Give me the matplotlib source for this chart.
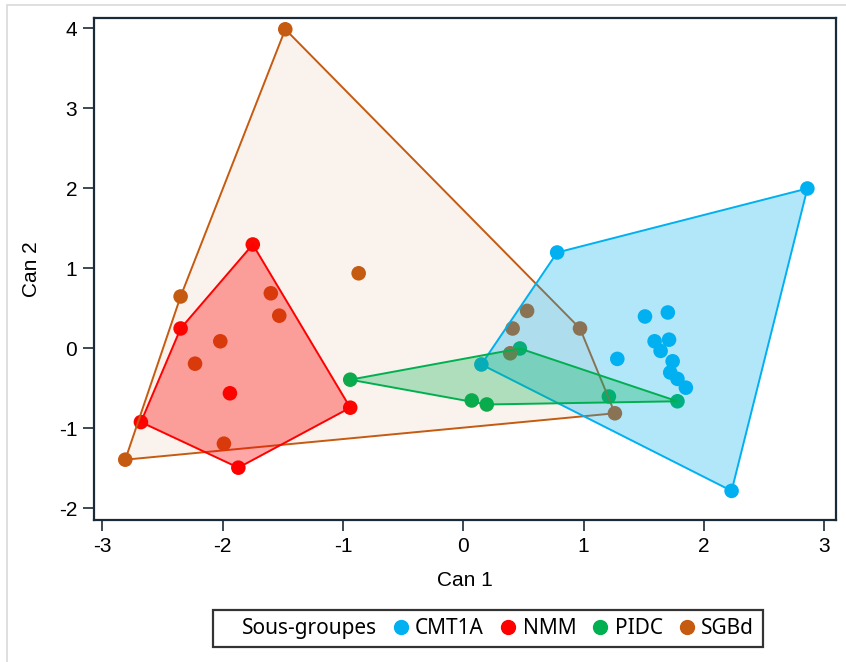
import matplotlib.pyplot as plt
from matplotlib.patches import Polygon, Rectangle
from matplotlib.lines import Line2D

# Scores canoniques par sous-groupe
cmt_x = [2.86, 0.78, 2.23, 0.15, 1.51, 1.70, 1.28, 1.59, 1.71, 1.64, 1.74, 1.72, 1.78, 1.85]
cmt_y = [2.00, 1.20, -1.78, -0.20, 0.40, 0.45, -0.13, 0.09, 0.11, -0.03, -0.16, -0.30, -0.38, -0.49]

nmm_x = [-1.75, -2.35, -2.68, -1.87, -0.94, -1.94]
nmm_y = [1.30, 0.25, -0.92, -1.49, -0.74, -0.56]

pidc_x = [-0.94, 0.47, 0.07, 0.195, 1.21, 1.78]
pidc_y = [-0.39, 0.00, -0.65, -0.70, -0.60, -0.66]

sgb_x = [-1.48, -2.81, -2.35, -0.87, -1.60, -1.53, -2.02, -2.23, -1.99,
         0.53, 0.41, 0.97, 0.39, 1.26]
sgb_y = [3.99, -1.39, 0.65, 0.94, 0.69, 0.41, 0.09, -0.19, -1.19,
         0.47, 0.25, 0.25, -0.06, -0.81]

groupes = ['CMT1A', 'NMM', 'PIDC', 'SGBd']
couleurs = ['#00B0F0', '#FF0000', '#00B050', '#C55A11']
alphas = [0.30, 0.35, 0.30, 0.08]
xticks = [-3, -2, -1, 0, 1, 2, 3]
yticks = [-2, -1, 0, 1, 2, 3, 4]

donnees = [(cmt_x, cmt_y), (nmm_x, nmm_y), (pidc_x, pidc_y), (sgb_x, sgb_y)]


def enveloppe(xs, ys):
    # enveloppe convexe (monotone chain)
    pts = sorted(set(zip(xs, ys)))

    def cross(o, a, b):
        return (a[0] - o[0]) * (b[1] - o[1]) - (a[1] - o[1]) * (b[0] - o[0])

    bas, haut = [], []
    for p in pts:
        while len(bas) >= 2 and cross(bas[-2], bas[-1], p) <= 0:
            bas.pop()
        bas.append(p)
    for p in reversed(pts):
        while len(haut) >= 2 and cross(haut[-2], haut[-1], p) <= 0:
            haut.pop()
        haut.append(p)
    return bas[:-1] + haut[:-1]


plt.rcParams['font.family'] = ['Liberation Sans', 'DejaVu Sans']
plt.rcParams['axes.unicode_minus'] = False
fig = plt.figure(figsize=(8.46, 6.62), dpi=100)
ax = fig.add_axes([0.1111, 0.2145, 0.8771, 0.7583])

# points d'abord, enveloppes par-dessus
for (xs, ys), c in zip(donnees, couleurs):
    ax.scatter(xs, ys, s=110, color=c, edgecolors='none', zorder=2)

for i in [3, 0, 2, 1]:
    xs, ys = donnees[i]
    poly = Polygon(enveloppe(xs, ys), closed=True, facecolor=couleurs[i],
                   alpha=alphas[i], edgecolor='none', zorder=3)
    ax.add_patch(poly)
    contour = Polygon(enveloppe(xs, ys), closed=True, fill=False,
                      edgecolor=couleurs[i], linewidth=1.4, zorder=3)
    ax.add_patch(contour)

ax.set_xlim(-3.070, 3.098)
ax.set_ylim(-2.144, 4.131)
ax.set_xticks(xticks)
ax.set_yticks(yticks)
ax.tick_params(direction='out', length=8, width=1.2, labelsize=15, pad=4,
               color='#1B2A38')
for s in ax.spines.values():
    s.set_color('#1B2A38')
    s.set_linewidth(1.6)
ax.set_xlabel('Can 1', fontsize=15, labelpad=11)
ax.set_ylabel('Can 2', fontsize=15, labelpad=13)

handles = [Line2D([], [], linestyle='none')]
for c in couleurs:
    handles.append(Line2D([], [], marker='o', linestyle='none', color=c, markersize=10))
leg = fig.legend(handles, ['Sous-groupes'] + groupes, loc='center',
                 bbox_to_anchor=(0.5768, 0.0506), ncol=5, frameon=True,
                 fancybox=False, edgecolor='black', handlelength=0.5,
                 handletextpad=0.45, columnspacing=0.9, borderpad=0.4,
                 borderaxespad=0,
                 prop={'family': 'Noto Sans', 'size': 15})
leg.get_frame().set_linewidth(1.6)

# cadre gris clair autour de l'image
fig.patches.append(Rectangle((0.008, -0.01), 1.0, 1.002, transform=fig.transFigure,
                             fill=False, edgecolor='#D9D9D9', linewidth=1.2))

fig.savefig('out.png', dpi=100)
